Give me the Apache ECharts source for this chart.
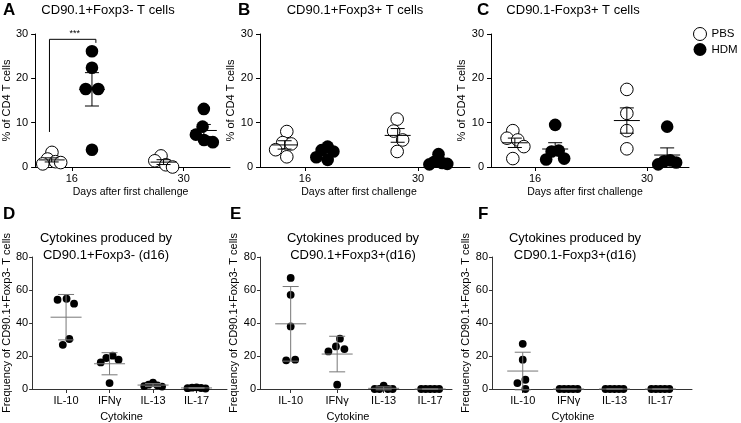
<!DOCTYPE html>
<html><head><meta charset="utf-8">
<script src="https://cdn.jsdelivr.net/npm/echarts@6/dist/echarts.min.js"></script>
<style>html,body{margin:0;padding:0;background:#fff}#c{width:741px;height:423px}</style>
</head><body><div id="c"></div>
<script>
// ---------------- data ----------------
const days = ['16', '30'];
const treatments = ['PBS', 'HDM'];
const topTitles = ['CD90.1+Foxp3- T cells', 'CD90.1+Foxp3+ T cells', 'CD90.1-Foxp3+ T cells'];
const topLetters = ['A', 'B', 'C'];
const topYName = '% of CD4 T cells';
const topXName = 'Days after first challenge';

// % of CD4 T cells; each array = [day 16 values, day 30 values]
const aPBS = [[3.3, 1.8, 1.2, 1.0, 0.7], [2.5, 1.4, 0.5, 0.0]];
const aHDM = [[26.1, 22.4, 17.6, 17.6, 3.9], [13.1, 9.1, 7.3, 6.1, 5.6]];
const bPBS = [[8.0, 5.5, 5.2, 3.9, 2.3], [10.8, 8.1, 6.1, 3.5]];
const bHDM = [[4.6, 3.8, 3.5, 2.2, 1.6], [2.9, 1.2, 0.9, 0.7, 0.6]];
const cPBS = [[8.2, 6.5, 6.1, 4.6, 1.9], [17.5, 12.1, 8.2, 4.1]];
const cHDM = [[9.5, 3.7, 3.5, 1.9, 1.7], [9.1, 1.5, 1.3, 1.0, 0.6]];

const cytokines = ['IL-10', 'IFNγ', 'IL-13', 'IL-17'];
const bottomLetters = ['D', 'E', 'F'];
const bottomTitles = [
  ['Cytokines produced by', 'CD90.1+Foxp3- (d16)'],
  ['Cytokines produced by', 'CD90.1+Foxp3+(d16)'],
  ['Cytokines produced by', 'CD90.1-Foxp3+(d16)']
];
const bottomYName = 'Frequency of CD90.1+Foxp3- T cells';
const bottomXName = 'Cytokine';

// Frequency (%); one array per cytokine
const dValues = [[54.7, 54.1, 51.7, 30.3, 26.8], [20.2, 18.8, 17.8, 16.1, 3.6], [3.8, 2.6, 2.2, 1.8, 1.5], [1.0, 0.8, 0.6, 0.5, 0.3]];
const eValues = [[67.3, 57.1, 37.9, 17.8, 17.4], [30.5, 25.8, 24.2, 22.8, 2.6], [2.0, 0, 0, 0, 0], [0, 0, 0, 0, 0]];
const fValues = [[27.4, 17.8, 5.6, 3.6, 0], [0, 0, 0, 0, 0], [0, 0, 0, 0, 0], [0, 0, 0, 0, 0]];

// significance annotation (panel A)
const sigLabel = '***';

// ---------------- layout / style ----------------
const FONT = '"Liberation Sans", Arial, Helvetica, sans-serif';
const topData = [[aPBS, aHDM], [bPBS, bHDM], [cPBS, cHDM]];
const bottomData = [dValues, eValues, fValues];
const topLayout = [
  { left: 28, width: 202, min: -0.328, max: 1.414, nameGap: 17, xShift: 4 },
  { left: 260, width: 210, min: -0.398, max: 1.46, nameGap: 14.5, xShift: 12 },
  { left: 491, width: 198, min: -0.393, max: 1.375, nameGap: 12, xShift: 10 }
];
const bottomLayout = [
  { left: 23, width: 204, min: -0.78, max: 3.70, nameGap: 12.5, xShift: 16 },
  { left: 260, width: 192, min: -0.66, max: 3.47, nameGap: 15.5, xShift: 16 },
  { left: 492, width: 200, min: -0.67, max: 3.69, nameGap: 18.5, xShift: 38 }
];
const GOFF = 0.18;

function mean(a) { return a.reduce((s, v) => s + v, 0) / a.length; }
function sd(a) { const m = mean(a); return Math.sqrt(a.reduce((s, v) => s + (v - m) * (v - m), 0) / (a.length - 1)); }

// beeswarm layout in pixel space
function swarm(ys, minD, maxHalf) {
  const n = ys.length;
  const order = ys.map((_, i) => i).sort((a, b) => ys[a] - ys[b]);
  const placed = [], xs = new Array(n);
  order.forEach(i => {
    let off = 0;
    for (let k = 0; k < 600; k++) {
      const o = (k % 2 ? -1 : 1) * Math.ceil(k / 2) * 0.5;
      if (placed.every(p => (p.x - o) * (p.x - o) + (p.y - ys[i]) * (p.y - ys[i]) >= minD * minD - 1e-6)) { off = o; break; }
    }
    xs[i] = off; placed.push({ x: off, y: ys[i] });
  });
  // recentre each vertically-connected cluster
  let comp = [order[0]];
  const comps = [];
  for (let j = 1; j < n; j++) {
    if (ys[order[j]] - ys[order[j - 1]] < minD) comp.push(order[j]);
    else { comps.push(comp); comp = [order[j]]; }
  }
  comps.push(comp);
  comps.forEach(c => {
    if (c.length < 2) return;
    const m = c.reduce((s, i) => s + xs[i], 0) / c.length;
    c.forEach(i => { xs[i] -= m; });
  });
  const ext = Math.max(...xs.map(Math.abs));
  if (ext > maxHalf) { const f = maxHalf / ext; for (let i = 0; i < n; i++) xs[i] *= f; }
  return xs;
}

function groupRenderer(valsByIdx, st) {
  return function (params, api) {
    const vals = valsByIdx[params.dataIndex];
    const xv = api.value(0);
    const cx = api.coord([xv, 0])[0];
    const ys = vals.map(v => api.coord([xv, v])[1]);
    const offs = swarm(ys, st.minD, st.maxHalf);
    const m = mean(vals);
    const s = sd(vals);
    const err = st.sem ? s / Math.sqrt(vals.length) : s;
    const ym = api.coord([xv, m])[1];
    const yh = api.coord([xv, m + err])[1];
    const yl = api.coord([xv, m - err])[1];
    const children = [];
    vals.forEach((v, i) => children.push({
      type: 'circle', shape: { cx: cx + offs[i], cy: ys[i], r: st.r },
      style: { fill: st.fill, stroke: st.stroke, lineWidth: st.lw }
    }));
    const ls = { stroke: st.errColor, lineWidth: 1 };
    children.push({ type: 'line', shape: { x1: cx, y1: yh, x2: cx, y2: yl }, style: ls });
    children.push({ type: 'line', shape: { x1: cx - st.mw, y1: ym, x2: cx + st.mw, y2: ym }, style: ls });
    children.push({ type: 'line', shape: { x1: cx - st.cw, y1: yh, x2: cx + st.cw, y2: yh }, style: ls });
    children.push({ type: 'line', shape: { x1: cx - st.cw, y1: yl, x2: cx + st.cw, y2: yl }, style: ls });
    return { type: 'group', children };
  };
}

const grids = [], xAxes = [], yAxes = [], series = [], graphics = [];

const axisTextStyle = { color: '#000', fontFamily: FONT, fontSize: 11 };

topLayout.forEach((L, p) => {
  grids.push({ left: L.left, width: L.width, top: 34, height: 133 });
  xAxes.push({
    type: 'value', gridIndex: p, min: L.min, max: L.max,
    axisLine: { show: true, onZero: false, lineStyle: { color: '#000', width: 1 } },
    axisTick: { show: true, length: 4, customValues: days.map((d, i) => i), lineStyle: { color: '#000' } },
    axisLabel: { show: true, customValues: days.map((d, i) => i), formatter: v => days[Math.round(v)], margin: 6, ...axisTextStyle },
    splitLine: { show: false },
    name: topXName, nameLocation: 'middle', nameGap: 20,
    nameTextStyle: { ...axisTextStyle, fontSize: 10.5, padding: [0, L.xShift, 0, 0] }
  });
  yAxes.push({
    type: 'value', gridIndex: p, min: 0, max: 30, interval: 10,
    axisLine: { show: true, onZero: false, lineStyle: { color: '#000', width: 1 } },
    axisTick: { show: true, length: 4, lineStyle: { color: '#000' } },
    axisLabel: { margin: 7, ...axisTextStyle },
    splitLine: { show: false },
    name: topYName, nameLocation: 'middle', nameGap: L.nameGap,
    nameTextStyle: { ...axisTextStyle }
  });
  topData[p].forEach((vals, t) => {
    series.push({
      type: 'custom', name: treatments[t], xAxisIndex: p, yAxisIndex: p, silent: true,
      z: 2 + t, clip: false,
      itemStyle: t ? { color: '#000' } : { color: '#fff', borderColor: '#000', borderWidth: 1 },
      encode: { x: 0, y: 1 },
      data: days.map((d, i) => [i + (t ? GOFF : -GOFF), mean(vals[i])]),
      renderItem: groupRenderer(vals, {
        r: 6.3, minD: 12.4, maxHalf: 9, sem: true, mw: 13, cw: 7, errColor: '#000',
        fill: t ? '#000' : '#fff', stroke: '#000', lw: t ? 0 : 1
      })
    });
  });
  graphics.push({ type: 'text', x: [3, 238, 477][p], y: 2, style: { text: topLetters[p], font: 'bold 17px ' + FONT, fill: '#000' } });
  graphics.push({ type: 'text', x: [108, 355, 573][p], y: 10, style: { text: topTitles[p], font: '13px ' + FONT, fill: '#000', align: 'center', verticalAlign: 'middle' } });
});

// significance bracket on panel A
series.push({
  type: 'custom', xAxisIndex: 0, yAxisIndex: 0, silent: true, z: 5, clip: false,
  data: [[0, aHDM[0][0]]],
  renderItem: function (params, api) {
    const yTop = api.coord([0, 28.8])[1];
    const pL = api.coord([-0.2, 7.9]);
    const pR = api.coord([0.215, 28.0]);
    return {
      type: 'group', children: [
        { type: 'polyline', shape: { points: [[pL[0], pL[1]], [pL[0], yTop], [pR[0], yTop], [pR[0], pR[1]]] }, style: { stroke: '#000', lineWidth: 1, fill: null } },
        { type: 'text', style: { text: sigLabel, x: (pL[0] + pR[0]) / 2 + 2, y: yTop - 1, align: 'center', verticalAlign: 'bottom', font: '9px ' + FONT, fill: '#000' } }
      ]
    };
  }
});

bottomLayout.forEach((L, q) => {
  const gi = q + 3;
  grids.push({ left: L.left, width: L.width, top: 257, height: 132 });
  xAxes.push({
    type: 'value', gridIndex: gi, min: L.min, max: L.max,
    axisLine: { show: true, onZero: false, lineStyle: { color: '#333', width: 1 } },
    axisTick: { show: true, length: 4, customValues: cytokines.map((c, i) => i), lineStyle: { color: '#333' } },
    axisLabel: { show: true, customValues: cytokines.map((c, i) => i), formatter: v => cytokines[Math.round(v)], margin: 6, ...axisTextStyle },
    splitLine: { show: false },
    name: bottomXName, nameLocation: 'middle', nameGap: 22,
    nameTextStyle: { ...axisTextStyle, padding: [0, L.xShift, 0, 0] }
  });
  yAxes.push({
    type: 'value', gridIndex: gi, min: 0, max: 80, interval: 20,
    axisLine: { show: true, onZero: false, lineStyle: { color: '#333', width: 1 } },
    axisTick: { show: true, length: 3, lineStyle: { color: '#333' } },
    axisLabel: { margin: 4, ...axisTextStyle },
    splitLine: { show: false },
    name: bottomYName, nameLocation: 'middle', nameGap: L.nameGap,
    nameTextStyle: { ...axisTextStyle }
  });
  const vals = bottomData[q];
  series.push({
    type: 'custom', xAxisIndex: gi, yAxisIndex: gi, silent: true, z: 2, clip: false,
    encode: { x: 0, y: 1 },
    data: cytokines.map((c, i) => [i, mean(vals[i])]),
    renderItem: groupRenderer(vals, {
      r: 3.9, minD: 8.6, maxHalf: 9, sem: false, mw: 15.5, cw: 8, errColor: '#777',
      fill: '#000', stroke: '#000', lw: 0
    })
  });
  graphics.push({ type: 'text', x: [3, 230, 478][q], y: 206, style: { text: bottomLetters[q], font: 'bold 17px ' + FONT, fill: '#000' } });
  const cxT = [106, 353, 575][q];
  graphics.push({ type: 'text', x: cxT, y: 238, style: { text: bottomTitles[q][0], font: '13px ' + FONT, fill: '#000', align: 'center', verticalAlign: 'middle' } });
  graphics.push({ type: 'text', x: cxT, y: 255, style: { text: bottomTitles[q][1], font: '13px ' + FONT, fill: '#000', align: 'center', verticalAlign: 'middle' } });
});

const chart = echarts.init(document.getElementById('c'), null, { renderer: 'canvas' });
chart.setOption({
  animation: false,
  backgroundColor: '#fff',
  grid: grids,
  xAxis: xAxes,
  yAxis: yAxes,
  legend: {
    data: [
      { name: 'PBS', icon: 'circle', itemStyle: { color: '#fff', borderColor: '#000', borderWidth: 1 } },
      { name: 'HDM', icon: 'circle', itemStyle: { color: '#000', borderWidth: 0 } }
    ],
    orient: 'vertical', left: 693, top: 27, itemWidth: 13, itemHeight: 13, itemGap: 2,
    selectedMode: false, padding: 0,
    textStyle: { color: '#000', fontFamily: FONT, fontSize: 11.5 }
  },
  graphic: graphics,
  series: series
});
</script>
</body></html>
